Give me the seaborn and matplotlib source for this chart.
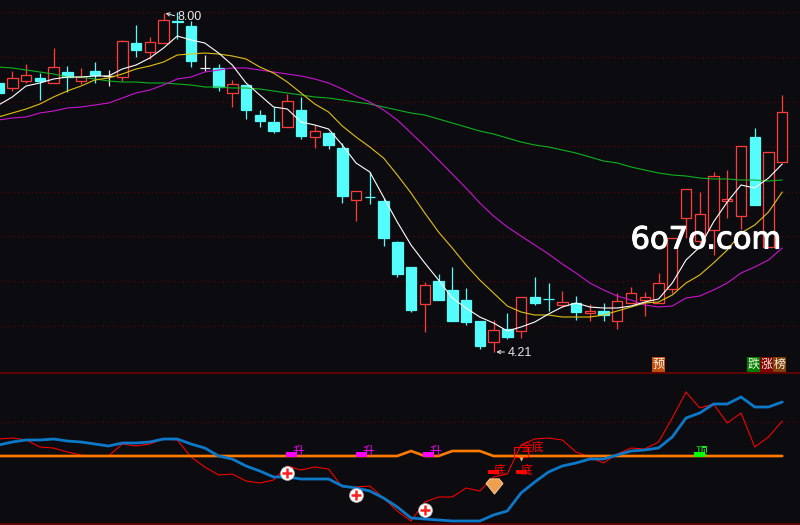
import matplotlib
matplotlib.use("Agg")
import matplotlib.patheffects as pe
import matplotlib.pyplot as plt
import numpy as np
import seaborn as sns


# ==============================
# DATA (chart has no price axis, so values are read as screen rows, top = 0)
# ==============================
kinds = ("crrcrcrcwr" "crrccwcrcc" "crcrccrccc" "crccccrcrc" "crcrcrrrrr" "rrrrrcrr")

body_top = [83, 78, 75, 78, 67, 72, 77, 71, 76, 41,
            43, 42, 20, 21, 26, 68, 68, 84, 85, 115,
            122, 101, 110, 131, 133, 148, 191, 197, 201, 242,
            267, 285, 281, 290, 300, 321, 330, 329, 297, 297,
            299, 302, 303, 311, 311, 301, 293, 297, 283, 238,
            189, 214, 176, 199, 146, 137, 152, 112]
body_bot = [93, 88, 81, 81, 83, 77, 81, 75, 76, 77,
            50, 52, 43, 22, 61, 68, 87, 93, 110, 121,
            131, 127, 136, 137, 145, 196, 200, 197, 238, 274,
            310, 304, 300, 321, 322, 346, 342, 337, 331, 303,
            299, 305, 312, 313, 315, 321, 303, 300, 303, 289,
            218, 241, 230, 201, 216, 205, 247, 162]
wick_top = [83, 71, 64, 73, 48, 66, 68, 62, 70, 40,
            25, 37, 13, 12, 21, 55, 64, 80, 85, 110,
            107, 94, 97, 125, 132, 143, 191, 172, 198, 241,
            267, 282, 274, 267, 288, 321, 320, 313, 297, 277,
            283, 291, 296, 304, 303, 293, 287, 292, 273, 238,
            189, 192, 172, 170, 146, 128, 152, 95]
wick_bot = [93, 91, 83, 100, 83, 92, 84, 83, 86, 81,
            57, 59, 43, 39, 67, 71, 91, 107, 119, 127,
            133, 127, 139, 148, 149, 203, 221, 204, 246, 277,
            312, 332, 300, 321, 325, 349, 352, 339, 338, 305,
            311, 307, 320, 321, 321, 329, 303, 316, 303, 293,
            238, 247, 255, 218, 229, 205, 247, 162]

ma5 = [105, 97, 86, 83, 79, 77, 77, 76, 76, 69,
       65, 58, 48, 36, 40, 43, 53, 65, 83, 95,
       107, 109, 122, 125, 129, 145, 163, 172, 197, 222,
       245, 263, 280, 298, 308, 317, 323, 331, 327, 322,
       314, 307, 303, 307, 308, 308, 306, 302, 299, 283,
       260, 247, 222, 202, 185, 188, 178, 164]
ma10 = [117, 113, 109, 104, 97, 91, 86, 80, 78, 74,
        69, 66, 62, 55, 54, 53, 54, 56, 59, 67,
        73, 82, 93, 104, 112, 126, 137, 147, 158, 175,
        193, 213, 232, 248, 265, 280, 293, 306, 312, 315,
        315, 317, 317, 317, 315, 311, 307, 303, 302, 295,
        283, 275, 263, 250, 233, 225, 212, 192]
ma20 = [120, 118, 117, 113, 111, 108, 107, 105, 103, 98,
        93, 90, 85, 79, 77, 72, 70, 68, 68, 70,
        72, 74, 76, 79, 83, 89, 96, 102, 110, 120,
        133, 146, 160, 174, 188, 203, 216, 227, 236, 245,
        254, 264, 273, 283, 290, 296, 300, 305, 307, 306,
        298, 296, 290, 283, 273, 267, 260, 248]
ma60 = [67, 68, 70, 72, 74, 77, 77, 79, 81, 82,
        82, 83, 83, 84, 85, 87, 87, 88, 88, 89,
        91, 93, 95, 97, 98, 100, 102, 104, 107, 110,
        113, 115, 119, 123, 127, 131, 134, 138, 142, 145,
        147, 150, 153, 157, 161, 163, 167, 170, 173, 175,
        176, 178, 179, 179, 180, 180, 181, 180]

blue_line = [445, 442, 440, 440, 439, 441, 442, 444, 446, 443,
             443, 442, 439, 439, 444, 448, 456, 459, 466, 471,
             477, 477, 479, 479, 479, 486, 488, 491, 498, 507,
             518, 519, 520, 521, 521, 521, 515, 511, 493, 482,
             472, 466, 463, 459, 459, 455, 451, 450, 448, 437,
             418, 413, 404, 404, 397, 407, 407, 402]
red_line = [439, 438, 440, 447, 448, 452, 455, 456, 456, 444,
            446, 444, 439, 440, 457, 467, 475, 474, 481, 483,
            480, 466, 470, 467, 469, 487, 487, 486, 498, 511,
            521, 502, 497, 497, 488, 491, 477, 474, 445, 439,
            438, 440, 452, 457, 463, 454, 448, 449, 442, 418,
            392, 408, 404, 423, 413, 447, 437, 421]
orange_line = [456] * 30 + [451, 456, 456, 451, 451, 451] + [456] * 22

upper_grid = [12, 57, 102, 146, 192, 236, 281, 326]
lower_grid = [422]

plus_idx = [21, 26, 31]
plus_row = [473, 495, 510]
rise_idx = [21.3, 26.4, 31.3]
bottom_idx = [36.0, 38.0]

BG = "#0c0c10"
RED = "#ff3c3c"
CYAN = "#54fcfc"
WHITE = "#e8e8e8"
GRID = "#6a0000"

sns.set_theme(style="dark")
plt.rcParams["font.family"] = ["Noto Sans CJK SC", "DejaVu Sans"]

fig = plt.figure(figsize=(8, 5.25), dpi=100, facecolor=BG)
ax = fig.add_axes([0, 153 / 525, 1, 372 / 525], facecolor=BG)
ax2 = fig.add_axes([0, 0, 1, 153 / 525], facecolor=BG)

idx = np.arange(len(kinds))
xlim = (0.105, 58.29)

# ==============================
# 1. CANDLES
# ==============================
ax.hlines(upper_grid, *xlim, color=GRID, lw=0.8, linestyles=(0, (1, 3)), zorder=0)

colors = {"r": RED, "c": CYAN, "w": WHITE}
edge = [colors[k] for k in kinds]
face = [BG if k == "r" else colors[k] for k in kinds]
top = np.array(body_top)
bot = np.array(body_bot)

ax.vlines(idx, wick_top, wick_bot, color=edge, lw=0.9, zorder=1)
ax.bar(idx, bot - top, bottom=top, width=0.76, color=face, edgecolor=edge, linewidth=0.9, zorder=2)

# moving averages
for values, col in [(ma60, "#10b020"), (ma20, "#c814d0"), (ma10, "#e0c010"), (ma5, "#ffffff")]:
    sns.lineplot(x=idx, y=values, ax=ax, color=col, lw=0.8, errorbar=None, legend=False, zorder=3)

ax.annotate("", xy=(11.95, 12.5), xytext=(13.0, 16.5),
            arrowprops=dict(arrowstyle="->", color=WHITE, lw=0.7, mutation_scale=6))
ax.text(13.0, 17, "8.00", color=WHITE, fontsize=9, family="Liberation Sans", va="center")
ax.annotate("", xy=(36.0, 352), xytext=(37.0, 352),
            arrowprops=dict(arrowstyle="->", color=WHITE, lw=0.7, mutation_scale=6))
ax.text(37.0, 353, "4.21", color=WHITE, fontsize=9, family="Liberation Sans", va="center")

for i, label, col in [(48, "预", "#c05010"), (54.9, "跌", "#008000"),
                      (55.87, "涨", "#800000"), (56.8, "榜", "#804008")]:
    ax.text(i, 364.5, label, color="#f4f0e0", fontsize=8.6, ha="center", va="center",
            bbox=dict(facecolor=col, edgecolor="none", pad=0.6))

wm = ax.text(51.41, 240, "6o7o.com", color="#ffffff", fontsize=22,
             family="DejaVu Sans", ha="center", va="center", zorder=6)
wm.set_path_effects([pe.withStroke(linewidth=0.8, foreground="#ffffff")])

ax.set_xlim(*xlim)
ax.set_ylim(372, 0)

# ==============================
# 2. LOWER INDICATOR
# ==============================
ax2.hlines(lower_grid, *xlim, color=GRID, lw=0.8, linestyles=(0, (1, 3)), zorder=0)
ax2.hlines([372.5], *xlim, color="#700000", lw=1.2)
ax2.hlines([524.2], *xlim, color="#700000", lw=1.2)

sns.lineplot(x=idx, y=red_line, ax=ax2, color="#ff0000", lw=0.75, errorbar=None, legend=False)
sns.lineplot(x=idx, y=orange_line, ax=ax2, color="#ff7a00", lw=1.9, errorbar=None, legend=False)
sns.lineplot(x=idx, y=blue_line, ax=ax2, color="#0c78c8", lw=2.0, errorbar=None, legend=False)

ax2.scatter(plus_idx, plus_row, s=100, color="#ffffff", edgecolor="#b0b0b0", lw=0.5, zorder=5)
ax2.scatter(plus_idx, plus_row, s=45, marker="+", color="#ff2020", lw=1.8, zorder=6)

for i in rise_idx:
    ax2.barh(454.5, 0.8, left=i - 0.4, height=5, color="#ff00ff", lw=0, zorder=4)
    ax2.text(i + 0.5, 451, "升", color="#ff00ff", fontsize=8.5, ha="center", va="center", zorder=5)

ax2.barh(454.5, 0.8, left=50.6, height=5, color="#00ff00", lw=0, zorder=4)
ax2.text(51.1, 451, "顶", color="#20ff20", fontsize=8.5, ha="center", va="center", zorder=5)

for i in bottom_idx:
    ax2.barh(472, 0.8, left=i - 0.4, height=4, color="#ff0000", lw=0, zorder=4)
    ax2.text(i + 0.4, 470.5, "底", color="#ff0000", fontsize=8.5, ha="center", va="center", zorder=5)

ax2.bar(38.0, 10, bottom=447, width=1.0, facecolor="none", edgecolor="#ff0000", lw=0.8, zorder=5)
ax2.text(38.85, 447.5, "金底", color="#ff0000", fontsize=8.5, ha="center", va="center", zorder=5)
ax2.scatter([38.0], [458.5], s=10, marker="v", color="#f0a860", lw=0, zorder=5)

# diamond badge
gem = [(-1, 0.35), (-0.55, 0.9), (0.55, 0.9), (1, 0.35), (0, -0.9), (-1, 0.35)]
ax2.scatter([36.05], [486], s=150, marker=gem, color="#eea050", edgecolor="#ffd8a0", lw=0.6, zorder=5)

ax2.set_xlim(*xlim)
ax2.set_ylim(525, 372)

for a in (ax, ax2):
    a.set_axis_off()
    a.set_xlabel("")
    a.set_ylabel("")

fig.savefig("out.png", dpi=100, facecolor=BG)
plt.close()
